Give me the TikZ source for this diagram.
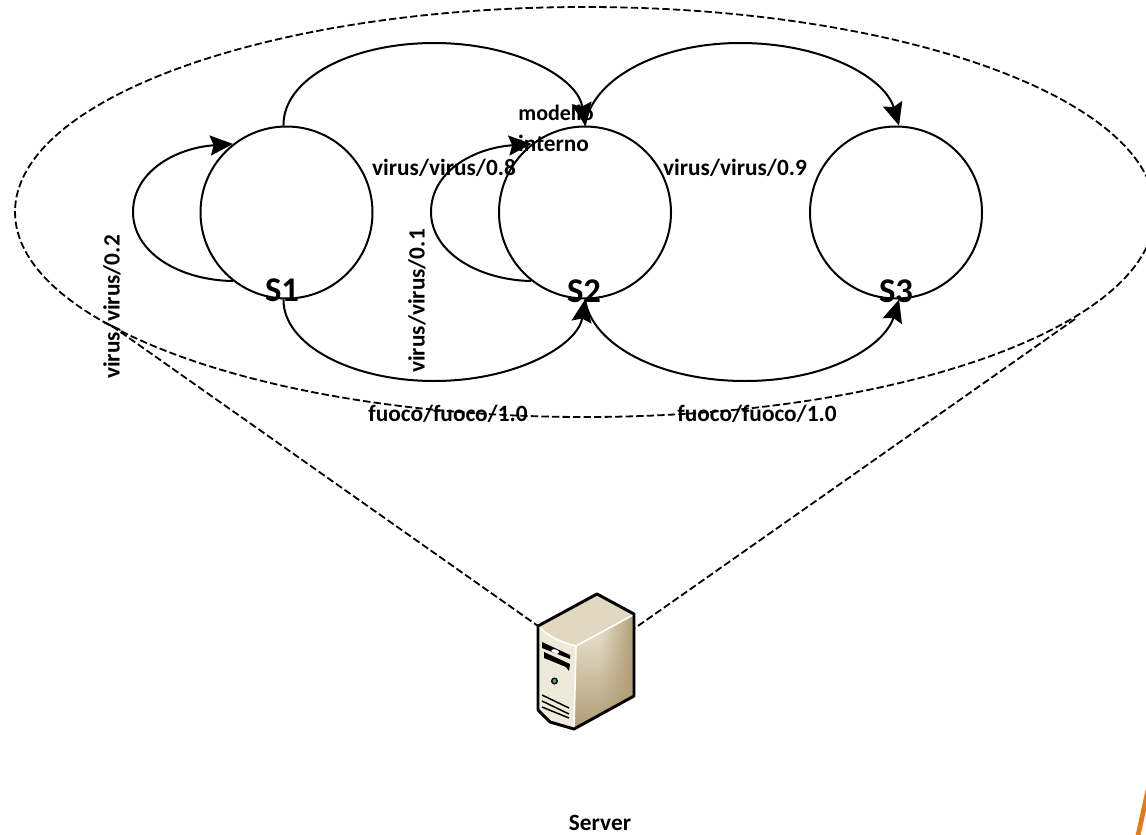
\documentclass[tikz,border=0pt]{standalone}
\usepackage{fontspec}
\setmainfont{Carlito}
\usetikzlibrary{arrows.meta,shapes.geometric,fadings}
\definecolor{srvlight}{HTML}{EFE9DA}
\definecolor{srvtop}{HTML}{E0D8C0}
\definecolor{srvdark}{HTML}{B09C74}
\definecolor{srvteal}{HTML}{5E9A8E}
\definecolor{accent}{HTML}{DF7C1C}
\tikzset{
  x=0.75pt,y=-0.75pt,
  state/.style={draw,circle,line width=1.5pt,minimum size=129pt,inner sep=0pt},
  edge/.style={line width=1.5pt,-{Stealth[length=17pt,width=15pt,inset=2.5pt]}},
  scopeline/.style={draw,line width=1.35pt,dash pattern=on 5.5pt off 2.4pt},
  lab/.style={font=\bfseries\fontsize{17.5}{20}\selectfont,inner sep=0pt},
  biglab/.style={font=\bfseries\fontsize{26}{28}\selectfont,inner sep=0pt},
}
\begin{document}
\begin{tikzpicture}
\begin{scope}
\clip (0,0) rectangle (1146,835);
\useasboundingbox (0,0) rectangle (1146,835);
% enclosing ellipse
\node[ellipse,scopeline,minimum width=855pt,minimum height=307.5pt,inner sep=0pt] (dom) at (585,212) {};
% states
\node[state] (s1) at (286.5,212.5) {};
\node[state] (s2) at (585,212.5) {};
\node[state] (s3) at (896,212.5) {};
% server drawing
\coordinate (srvL) at (538,626);
\coordinate (srvR) at (635,628);
\coordinate (domL) at (112,326);
\coordinate (domR) at (1075,319);
\fill[srvlight] (538,626) -- (576,646) -- (574,729) -- (550,722) -- (538,710) -- cycle;
\shade[top color=srvlight,bottom color=srvdark] (576,646) -- (634,614) -- (634,696) -- (574,729) -- cycle;
\fill[srvdark,path fading=west] (600,612) rectangle (634,710);
\fill[srvtop] (538,626) -- (597,594) -- (634,614) -- (576,646) .. controls (562,643) and (548,636) .. (538,626) -- cycle;
\fill[white] (574,729) -- (634,696) -- (634,720) -- (574,740) -- cycle;
\draw[white,line width=1.2pt] (539,627) .. controls (548,636) and (562,643) .. (576,646) -- (633,615);
\draw[white,line width=1.2pt] (576,646) -- (574,728);
\fill[black] (542,642) -- (570,655) -- (570,659) -- (542,648) -- cycle;
\fill[black] (544,652) -- (570,664) -- (569,671) -- (566,667) -- (544,658) -- cycle;
\fill[white] (551,651) .. controls (553,648) and (557,649) .. (559,652) -- (557,654) -- cycle;
\fill[srvteal,draw=black,line width=1pt] (554.5,681) circle (2.8);
\draw[black,line width=1.1pt] (542,695) -- (569,708) (542,701) -- (569,714) (542,707) -- (569,718);
\draw[black,line width=2.2pt,line join=round] (538,626) -- (597,594) -- (634,614) -- (634,696) -- (574,729) -- (550,722) -- (538,710) -- cycle;
% scope lines
\draw[scopeline] (domL) -- (srvL);
\draw[scopeline] (domR) -- (srvR);
% transitions
\draw[edge] (s1.232) .. controls (178,280) and (133,252) .. (133,212) .. controls (133,172) and (175,148) .. (s1.128);
\draw[edge] (s2.232) .. controls (478,280) and (431,252) .. (431,212) .. controls (431,172) and (473,148) .. (s2.128);
\draw[edge] (s1.92) .. controls (283,78) and (352,43) .. (434,43) .. controls (516,43) and (578,78) .. (s2.90);
\draw[edge] (s2.90) .. controls (592,78) and (660,43) .. (740,43) .. controls (824,43) and (885,78) .. (s3.88);
\draw[edge] (s1.268) .. controls (283,345) and (352,381) .. (434,381) .. controls (516,381) and (578,345) .. (s2.270);
\draw[edge] (s2.270) .. controls (592,345) and (660,381) .. (745,381) .. controls (830,381) and (885,345) .. (s3.272);
% labels
\node[biglab] (l1) at (282,290) {S1};
\node[biglab] (l2) at (584,291) {S2};
\node[biglab] (l3) at (896,291) {S3};
\node[lab,font=\bfseries\fontsize{16.5}{20}\selectfont] (m1) at (556,113) {modello};
\node[lab] (m2) at (553.5,143) {interno};
\node[lab] (v8) at (444,168) {virus/virus/0.8};
\node[lab] (v9) at (735,168) {virus/virus/0.9};
\node[lab,rotate=90] (v2) at (112,307) {virus/virus/0.2};
\node[lab,rotate=90] (v1) at (417,301) {virus/virus/0.1};
\node[lab] (f1) at (448,414) {fuoco/fuoco/1.0};
\node[lab] (f2) at (757,414) {fuoco/fuoco/1.0};
\node[lab] (srv) at (600,823) {Server};
% corner accent
\draw[accent,line width=3.6pt] (1137,840) -- (1148,790);
\end{scope}
\end{tikzpicture}
\end{document}
